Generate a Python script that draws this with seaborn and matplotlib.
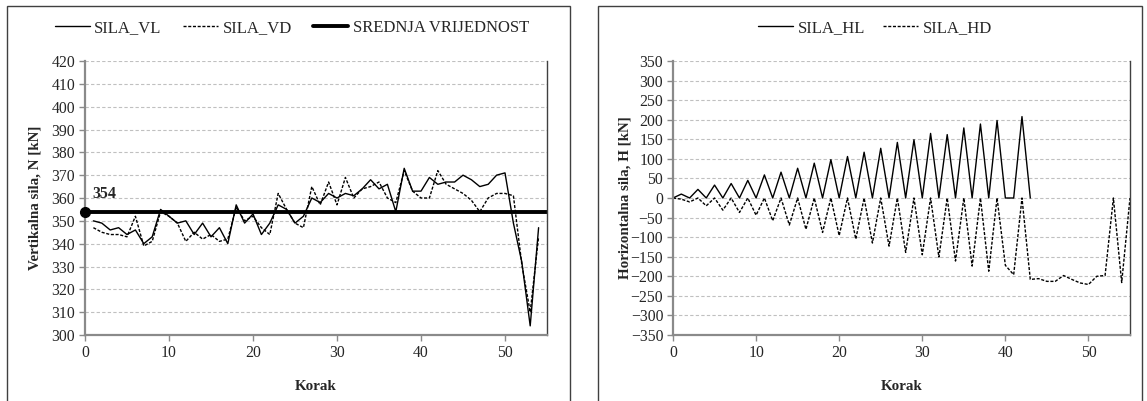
import numpy as np
import pandas as pd
import seaborn as sns
from matplotlib import pyplot as plt
from matplotlib.lines import Line2D
from matplotlib.patches import Rectangle

# vertikalna sila (lijevi graf)
korak_v = np.arange(1, 55)
sila_vl = [350, 349, 346, 347, 344, 346, 340, 343, 355, 352,
           349, 350, 344, 349, 343, 347, 340, 357, 349, 353,
           344, 349, 357, 355, 349, 352, 360, 358, 362, 360,
           362, 361, 364, 368, 364, 366, 354, 373, 363, 363,
           369, 366, 367, 367, 370, 368, 365, 366, 370, 371,
           349, 332, 304, 347]
sila_vd = [347, 345, 344, 344, 343, 352, 339, 341, 354, 352,
           349, 341, 345, 342, 344, 341, 342, 356, 350, 352,
           347, 344, 362, 355, 349, 347, 365, 357, 367, 357,
           369, 360, 364, 365, 367, 360, 358, 372, 363, 360,
           360, 372, 366, 364, 362, 359, 354, 360, 362, 362,
           361, 331, 310, 343]
srednja_v = 354

# horizontalna sila (desni graf)
sila_hl = [0, 10, 0, 22, 0, 33, 0, 37, 0, 45,
           0, 59, 0, 66, 0, 76, 0, 89, 0, 98,
           0, 106, 0, 117, 0, 127, 0, 142, 0, 149,
           0, 165, 0, 162, 0, 179, 0, 189, 0, 198,
           0, 0, 208, 0]
sila_hd = [0, -3, -10, 0, -20, 0, -31, 0, -37, 0,
           -44, 0, -58, 0, -69, 0, -80, 0, -88, 0,
           -96, 0, -105, 0, -115, 0, -123, 0, -139, 0,
           -145, 0, -151, 0, -161, 0, -174, 0, -187, 0,
           -172, -196, 0, -208, -206, -213, -213, -198, -208, -217,
           -221, -200, -198, 0, -216, 0]
korak_hl = np.arange(len(sila_hl))
korak_hd = np.arange(len(sila_hd))

sns.set_style('white')
plt.rcParams['font.family'] = ['Liberation Serif', 'DejaVu Serif']
plt.rcParams['font.size'] = 11

W, H = 1147, 401
fig = plt.figure(figsize=(W / 100, H / 100), dpi=100)

# okviri oko grafova
for x0, x1 in [(7, 570), (598, 1142)]:
    fig.patches.append(Rectangle((x0 / W, -0.02), (x1 - x0) / W, 1 - 6 / H + 0.02,
                                 transform=fig.transFigure, fill=False,
                                 edgecolor='#404040', lw=1.0))

ax1 = fig.add_axes([85 / W, 66 / H, 462 / W, 274 / H])
ax2 = fig.add_axes([673 / W, 66 / H, 457 / W, 274 / H])

dash = (0, (2.2, 1.2))

df_v = pd.DataFrame({'Korak': korak_v, 'SILA_VL': sila_vl, 'SILA_VD': sila_vd})
sns.lineplot(data=df_v, x='Korak', y='SILA_VL', ax=ax1, color='black', lw=1.0)
sns.lineplot(data=df_v, x='Korak', y='SILA_VD', ax=ax1, color='black', lw=1.0, linestyle=dash)
ax1.axhline(srednja_v, color='black', lw=2.8)

df_hl = pd.DataFrame({'Korak': korak_hl, 'SILA_HL': sila_hl})
df_hd = pd.DataFrame({'Korak': korak_hd, 'SILA_HD': sila_hd})
sns.lineplot(data=df_hl, x='Korak', y='SILA_HL', ax=ax2, color='black', lw=1.0)
sns.lineplot(data=df_hd, x='Korak', y='SILA_HD', ax=ax2, color='black', lw=1.0, linestyle=dash)

ax1.set_xlim(0, 55)
ax1.set_ylim(300, 420)
ax1.set_yticks(np.arange(300, 421, 10))
ax2.set_xlim(0, 55)
ax2.set_ylim(-350, 350)
ax2.set_yticks(np.arange(-350, 351, 50))

# srednja vrijednost - tocka i oznaka na lijevom rubu
x_left = ax1.get_xlim()[0]
ax1.plot(x_left, srednja_v, 'o', color='black', ms=7, clip_on=False, zorder=5)
ax1.annotate(f'{srednja_v:.0f}', xy=(x_left, srednja_v), xytext=(5, 7),
             textcoords='offset points', ha='left', va='bottom',
             fontweight='bold', fontsize=11.5)

for ax, ylab in [(ax1, 'Vertikalna sila, N [kN]'), (ax2, 'Horizontalna sila, H [kN]')]:
    ax.set_xticks(np.arange(0, 51, 10))
    ax.grid(axis='y', color='#c0c0c0', ls=(0, (3, 2)), lw=0.8)
    ax.grid(axis='x', visible=False)
    ax.set_axisbelow(True)
    ax.spines['top'].set_visible(False)
    ax.spines['left'].set_color('#8a8a8a')
    ax.spines['bottom'].set_color('#8a8a8a')
    ax.spines['left'].set_linewidth(1.6)
    ax.spines['bottom'].set_linewidth(1.6)
    ax.spines['right'].set_color('#404040')
    ax.spines['right'].set_linewidth(1.0)
    ax.tick_params(axis='both', which='major', direction='out', length=4,
                   width=1, color='#8a8a8a', labelsize=11.3, pad=3,
                   left=True, bottom=True)
    ax.set_xlabel('Korak', fontweight='bold', fontsize=10.8)
    ax.set_ylabel(ylab, fontweight='bold', fontsize=10.8)
    ax.xaxis.set_label_coords(0.5, -0.165)

ax1.yaxis.set_label_coords(-0.095, 0.5)
ax2.yaxis.set_label_coords(-0.09, 0.5)

solid = Line2D([], [], color='black', lw=1.0)
dashed = Line2D([], [], color='black', lw=1.0, linestyle=dash)
thick = Line2D([], [], color='black', lw=2.8)
ax1.legend([solid, dashed, thick], ['SILA_VL', 'SILA_VD', 'SREDNJA VRIJEDNOST'],
           loc='center', bbox_to_anchor=(292 / W, 1 - 28 / H), bbox_transform=fig.transFigure,
           ncol=3, frameon=False, handlelength=2.1, handletextpad=0.25,
           columnspacing=1.3, fontsize=12)
ax2.legend([solid, dashed], ['SILA_HL', 'SILA_HD'],
           loc='center', bbox_to_anchor=(875 / W, 1 - 28 / H), bbox_transform=fig.transFigure,
           ncol=2, frameon=False, handlelength=2.1, handletextpad=0.25,
           columnspacing=1.1, fontsize=12)

fig.savefig('out.png', dpi=100)
